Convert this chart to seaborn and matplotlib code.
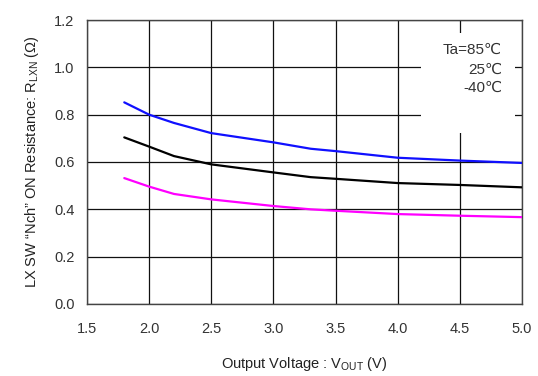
import pandas as pd
import matplotlib
matplotlib.use("Agg")
import matplotlib.pyplot as plt
import seaborn as sns
from matplotlib.patches import Rectangle

# data
vout = [1.8, 2.0, 2.2, 2.5, 3.0, 3.3, 3.5, 4.0, 4.5, 5.0]
r_85 = [0.852, 0.800, 0.765, 0.722, 0.683, 0.656, 0.646, 0.618, 0.606, 0.596]
r_25 = [0.704, 0.665, 0.625, 0.590, 0.556, 0.536, 0.529, 0.511, 0.503, 0.493]
r_m40 = [0.532, 0.496, 0.465, 0.442, 0.414, 0.400, 0.394, 0.380, 0.373, 0.367]
temps = ["Ta=85\u2103", "25\u2103", "-40\u2103"]
colors = ["#1010ff", "#000000", "#ff00ff"]

data = pd.DataFrame({
    "vout": vout * 3,
    "r": r_85 + r_25 + r_m40,
    "temp": [temps[0]] * len(vout) + [temps[1]] * len(vout) + [temps[2]] * len(vout),
})

sns.set_style("white")
plt.rcParams["font.family"] = ["Liberation Sans", "DejaVu Sans"]
plt.rcParams["mathtext.fontset"] = "custom"
plt.rcParams["mathtext.rm"] = "Liberation Sans"

fig = plt.figure(figsize=(5.38, 3.76), dpi=100)
ax = fig.add_axes([0.1617, 0.1915, 0.8085, 0.7553])

sns.lineplot(data=data, x="vout", y="r", hue="temp", palette=colors,
             linewidth=1.6, legend=False, ax=ax, zorder=3)

ax.set_xlim(1.5, 5.0)
ax.set_ylim(0, 1.2)
ax.set_xticks([1.5, 2.0, 2.5, 3.0, 3.5, 4.0, 4.5, 5.0])
ax.set_yticks([0.0, 0.2, 0.4, 0.6, 0.8, 1.0, 1.2])
ax.set_xticklabels(["1.5", "2.0", "2.5", "3.0", "3.5", "4.0", "4.5", "5.0"])
ax.set_yticklabels(["0.0", "0.2", "0.4", "0.6", "0.8", "1.0", "1.2"])
ax.grid(True, color="#111111", linewidth=0.9)
ax.set_axisbelow(True)
ax.tick_params(axis="x", length=0, labelsize=10.5, colors="#333333", pad=13)
ax.tick_params(axis="y", length=0, labelsize=10.5, colors="#333333", pad=9)
for s in ax.spines.values():
    s.set_color("#444444")
    s.set_linewidth(1.0)

ax.set_xlabel("Output Voltage : V$\\mathregular{_{OUT}}$ (V)", fontsize=10.5,
              color="#222222", labelpad=14)
ax.set_ylabel("LX SW \u201cNch\u201d ON Resistance: R$\\mathregular{_{LXN}}$ (\u03a9)",
              fontsize=10.5, color="#222222", labelpad=9)

# white box behind the temperature labels
ax.add_patch(Rectangle((4.19, 0.722), 0.755, 0.423, facecolor="white",
                       edgecolor="none", zorder=2))
ys = [1.073, 0.99, 0.912]
for t, y in zip(temps, ys):
    ax.text(4.84, y, t, ha="right", va="center", fontsize=11,
            color="#333333", zorder=4)

fig.savefig("out.png", dpi=100)
